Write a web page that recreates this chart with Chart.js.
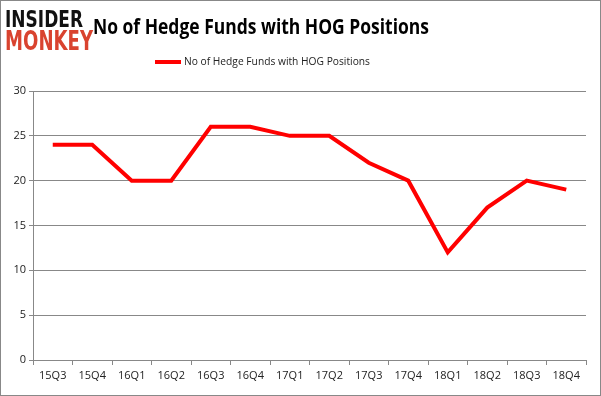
<!DOCTYPE html>
<html>
<head>
<meta charset="utf-8">
<script src="https://cdn.jsdelivr.net/npm/chart.js@4/dist/chart.umd.min.js"></script>
<style>
  body { margin: 0; background: #fff; }
  #wrap { position: relative; width: 601px; height: 396px; border: 1px solid #888; box-sizing: border-box; }
  #c { display: block; }
</style>
</head>
<body>
<div id="wrap"><canvas id="c" width="599" height="394"></canvas></div>
<script>
// 数据
var quarters = ['15Q3', '15Q4', '16Q1', '16Q2', '16Q3', '16Q4', '17Q1', '17Q2', '17Q3', '17Q4', '18Q1', '18Q2', '18Q3', '18Q4'];
var hedgeFunds = [24, 24, 20, 20, 26, 26, 25, 25, 22, 20, 12, 17, 20, 19];
var yTicks = [0, 5, 10, 15, 20, 25, 30];
var seriesName = 'No of Hedge Funds with HOG Positions';
var chartTitle = 'No of Hedge Funds with HOG Positions';

// 画 logo、标题和图例
var headerPlugin = {
    id: 'header',
    afterDraw: function (chart) {
        var ctx = chart.ctx;
        ctx.save();
        // logo
        ctx.textBaseline = 'alphabetic';
        ctx.textAlign = 'left';
        ctx.fillStyle = '#111';
        ctx.font = 'bold 23px "DejaVu Sans"';
        ctx.fillText('INSIDER', 4, 26, 78);
        ctx.fillStyle = '#d9432f';
        ctx.font = 'bold 27px "DejaVu Sans"';
        ctx.fillText('MONKEY', 4, 49, 88);
        // 标题
        ctx.fillStyle = '#000';
        ctx.font = 'bold 22px "Open Sans"';
        ctx.textAlign = 'center';
        ctx.fillText(chartTitle, 260, 33, 336);
        // 图例
        var ds = chart.data.datasets[0];
        ctx.font = '11.5px "Open Sans"';
        ctx.textAlign = 'left';
        ctx.textBaseline = 'middle';
        ctx.strokeStyle = ds.borderColor;
        ctx.lineWidth = 4;
        ctx.beginPath();
        ctx.moveTo(154, 61);
        ctx.lineTo(180, 61);
        ctx.stroke();
        ctx.fillStyle = '#222';
        ctx.fillText(ds.label, 183, 61, 186);
        ctx.restore();
    }
};

new Chart(document.getElementById('c'), {
    type: 'line',
    data: {
        labels: quarters,
        datasets: [{
            label: seriesName,
            data: hedgeFunds,
            borderColor: '#ff0000',
            backgroundColor: '#ff0000',
            borderWidth: 4,
            fill: false,
            tension: 0,
            pointRadius: 0
        }]
    },
    options: {
        responsive: false,
        animation: false,
        layout: { padding: { top: 90, right: 14, left: 0, bottom: 0 } },
        plugins: {
            legend: { display: false },
            title: { display: false },
            tooltip: { enabled: false }
        },
        scales: {
            x: {
                offset: true,
                grid: { offset: true, drawOnChartArea: false, tickLength: 5, color: '#888' },
                border: { color: '#888' },
                ticks: { color: '#222', font: { size: 11, family: 'Open Sans' }, padding: 4, maxRotation: 0 },
                afterFit: function (s) { s.height = 35; }
            },
            y: {
                min: 0,
                max: 30,
                afterBuildTicks: function (s) { s.ticks = yTicks.map(function (v) { return { value: v }; }); },
                grid: { color: '#888', tickLength: 4 },
                border: { color: '#888' },
                ticks: { color: '#222', font: { size: 11, family: 'Open Sans' }, padding: 3 },
                afterFit: function (s) { s.width = 32; }
            }
        }
    },
    plugins: [headerPlugin]
});
</script>
</body>
</html>
